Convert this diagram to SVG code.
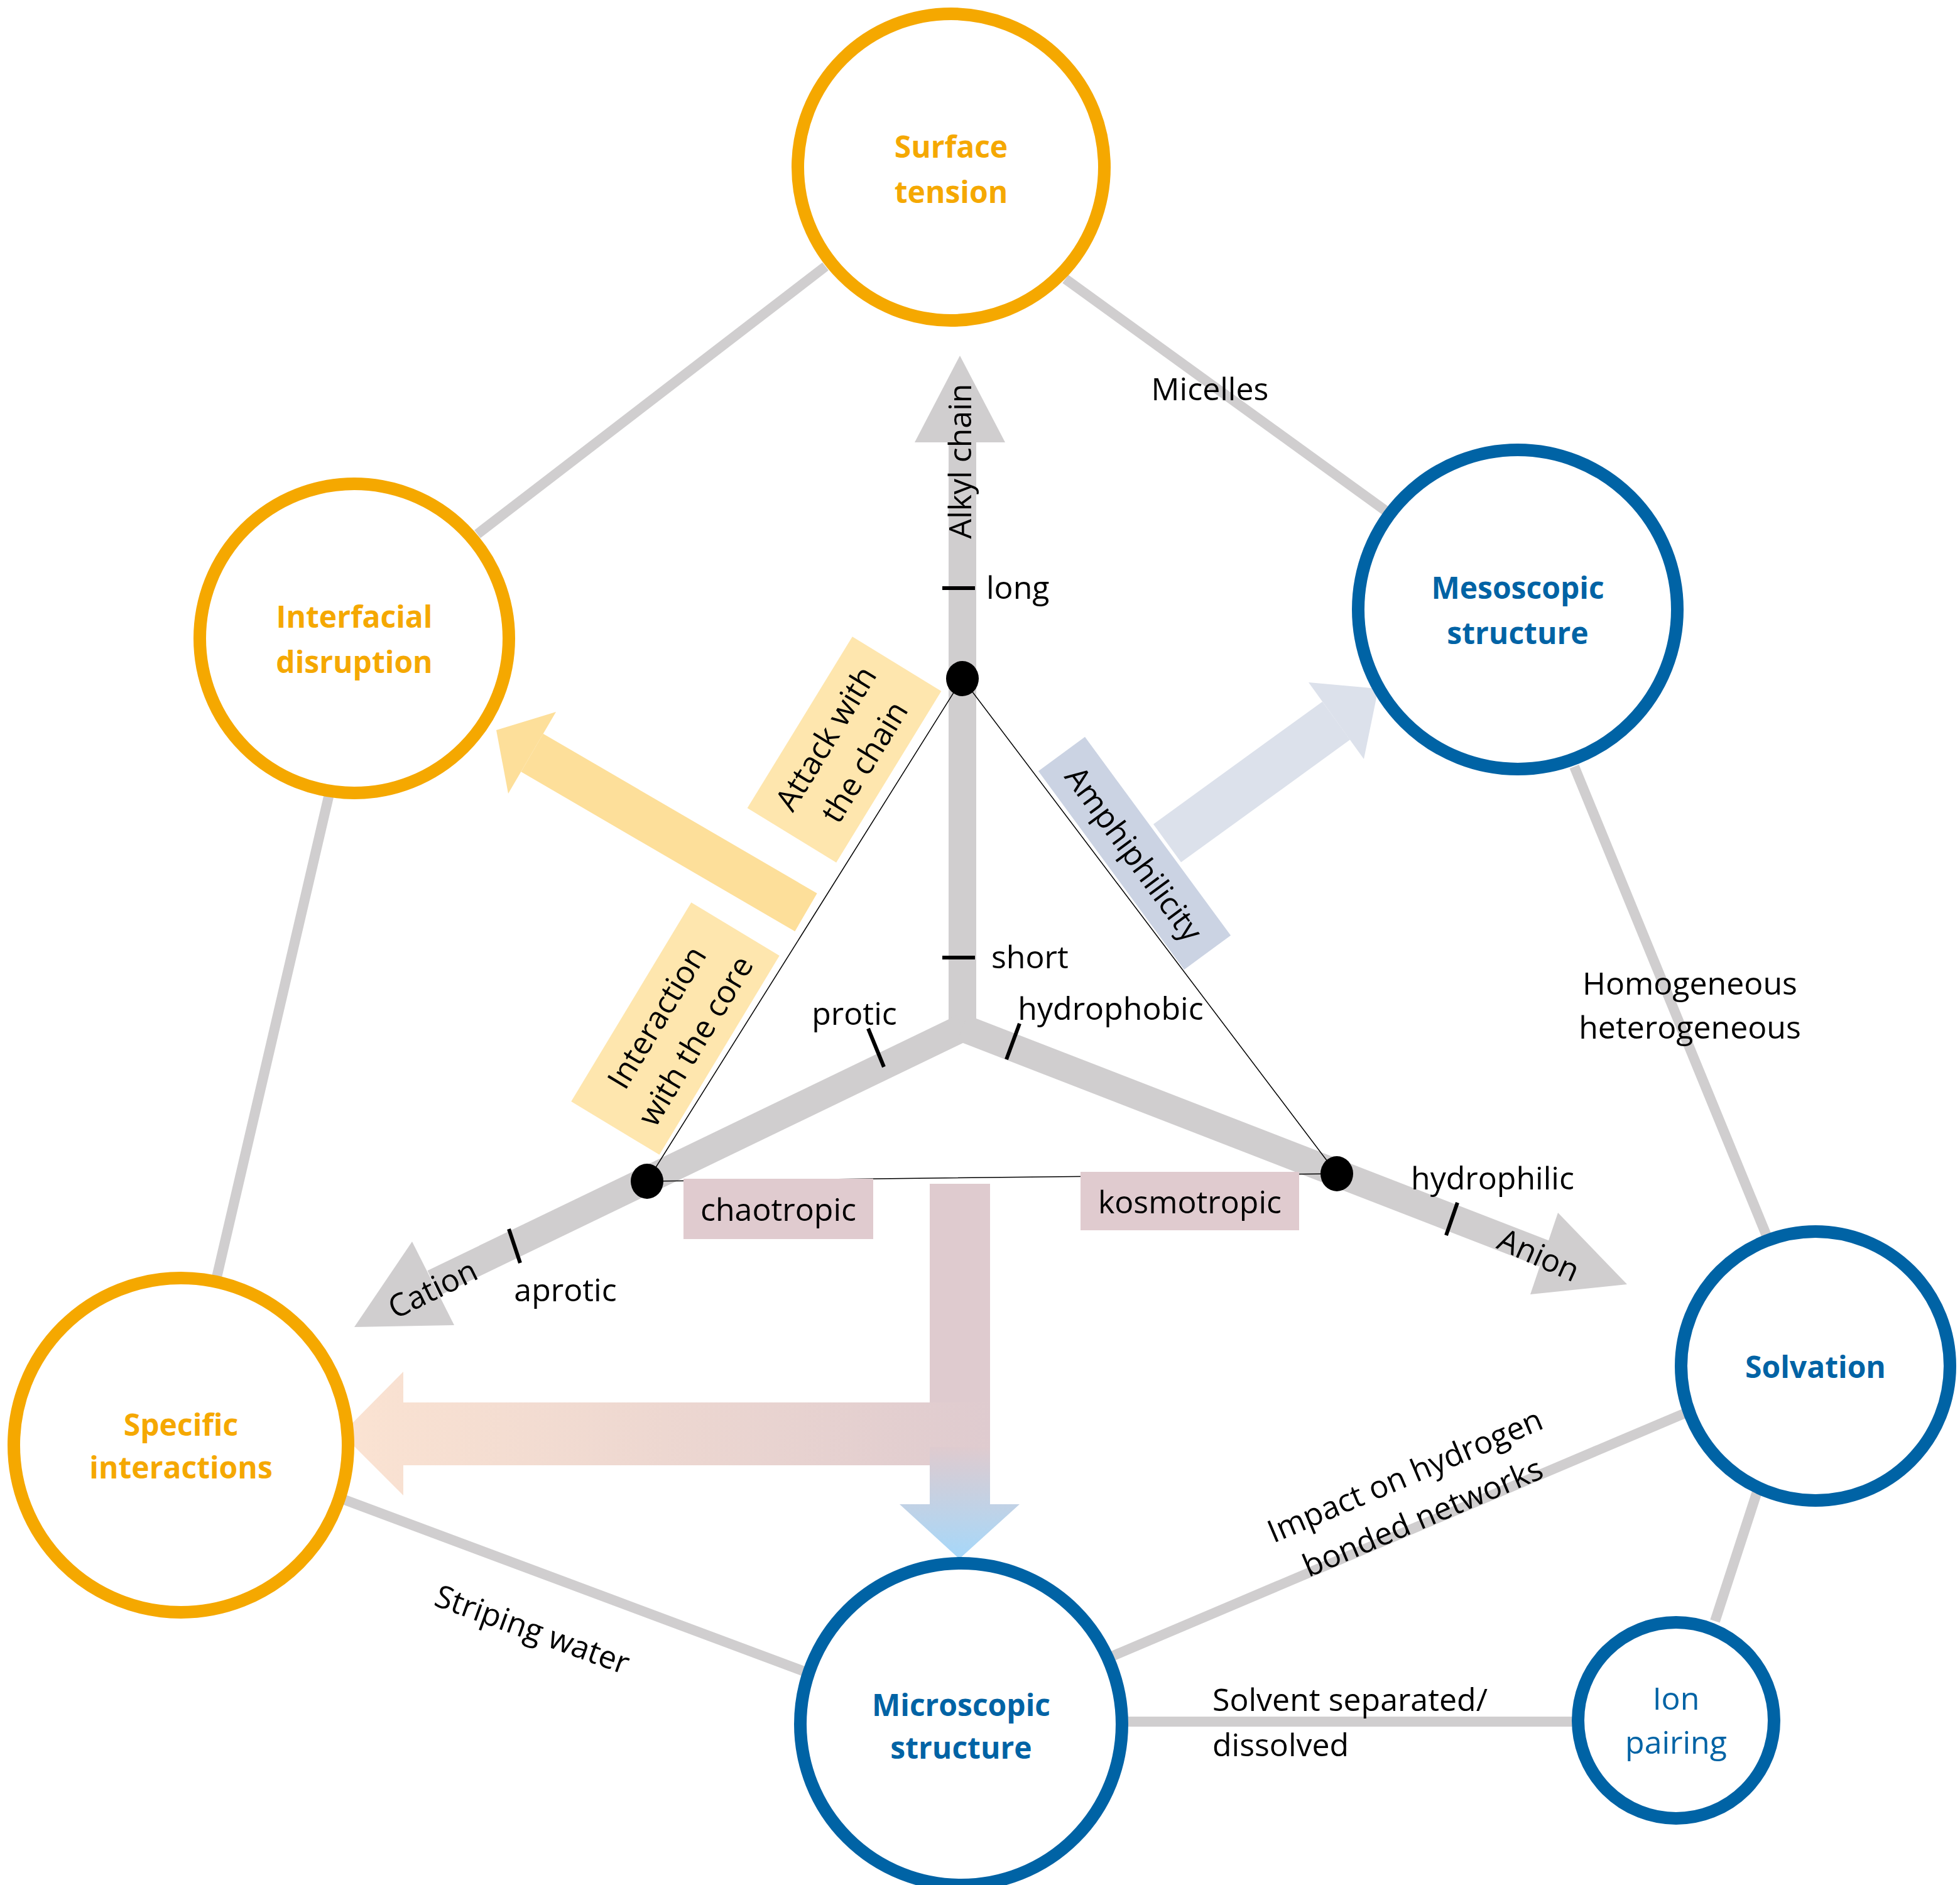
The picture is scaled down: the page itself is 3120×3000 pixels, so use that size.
<svg xmlns="http://www.w3.org/2000/svg" width="3120" height="3000" viewBox="0 0 3120 3000">
<style>
text{font-family:"Open Sans","Noto Sans",sans-serif;font-size:50px;fill:#000;text-anchor:middle;dominant-baseline:central}
.o{stroke:#F5A800;stroke-width:20;fill:#fff}
.b{stroke:#0063A5;stroke-width:20;fill:#fff}
.ot{fill:#F5A800;font-weight:bold;font-size:48px}
.bt{fill:#0063A5;font-weight:bold;font-size:48px}
.g{stroke:#D0CECF;stroke-width:16;fill:none}
.tk{stroke:#000;stroke-width:6}
.tri{stroke:#000;stroke-width:1.5;fill:none}
</style>
<defs>
<linearGradient id="hg" x1="544" y1="0" x2="1576" y2="0" gradientUnits="userSpaceOnUse"><stop offset="0" stop-color="#FBE3D2"/><stop offset="1" stop-color="#DFCBCF"/></linearGradient>
<linearGradient id="vg" x1="0" y1="2303" x2="0" y2="2481" gradientUnits="userSpaceOnUse"><stop offset="0" stop-color="#DFCBCF"/><stop offset="1" stop-color="#A6D8FA"/></linearGradient>
</defs>
<g id="connectors">
<line class="g" x1="1314" y1="424" x2="760" y2="850"/>
<line class="g" x1="1696" y1="444" x2="2210" y2="816"/>
<line class="g" x1="524" y1="1264" x2="340" y2="2054"/>
<line class="g" x1="2506" y1="1220" x2="2816" y2="1976"/>
<line class="g" x1="530" y1="2380" x2="1280" y2="2660"/>
<line class="g" x1="1770" y1="2636" x2="2680" y2="2250"/>
<line class="g" x1="2816" y1="2316" x2="2730" y2="2580"/>
<line class="g" x1="1796" y1="2740" x2="2506" y2="2740"/>
<text x="1926" y="618">Micelles</text>
<text x="2690" y="1564">Homogeneous</text>
<text x="2690" y="1634">heterogeneous</text>
<text x="848" y="2592" transform="rotate(20 848 2592)">Striping water</text>
<g transform="rotate(-23 2250 2380)"><text x="2250" y="2344">Impact on hydrogen</text><text x="2250" y="2416">bonded networks</text></g>
<text x="1930" y="2704" style="text-anchor:start">Solvent separated/</text>
<text x="1930" y="2776" style="text-anchor:start">dissolved</text>
</g>
<g id="flow-arrows">
<line x1="1283" y1="1452" x2="847" y2="1198" stroke="#FDDF9A" stroke-width="70"/>
<polygon points="885,1133 809,1263 790,1162" fill="#FDDF9A"/>
<line x1="1858" y1="1342" x2="2127" y2="1147" stroke="#DCE1EB" stroke-width="75"/>
<polygon points="2083,1086 2171,1208 2194,1096" fill="#DCE1EB"/>
<rect x="1480" y="1884" width="96" height="420" fill="#DFCBCF"/>
<polygon points="642,2183 642,2232 1576,2232 1576,2332 642,2332 642,2380 544,2282" fill="url(#hg)"/>
<polygon points="1480,2303 1576,2303 1576,2394 1623,2394 1527,2481 1432,2394 1480,2394" fill="url(#vg)"/>
</g>
<g id="axes">
<line x1="1532" y1="704" x2="1532" y2="1640" stroke="#D0CECF" stroke-width="44"/>
<polygon points="1456,704 1600,704 1528,566" fill="#D0CECF"/>
<line x1="1532" y1="1636" x2="690" y2="2042" stroke="#D0CECF" stroke-width="44"/>
<polygon points="656,1976 723,2109 564,2112" fill="#D0CECF"/>
<line x1="1532" y1="1636" x2="2458" y2="1995" stroke="#D0CECF" stroke-width="44"/>
<polygon points="2480,1930 2436,2060 2590,2044" fill="#D0CECF"/>
<text x="1527" y="734" transform="rotate(-90 1527 734)">Alkyl chain</text>
<text x="688" y="2050" transform="rotate(-26 688 2050)">Cation</text>
<text x="2450" y="1996" transform="rotate(24 2450 1996)">Anion</text>
<line class="tk" x1="1500" y1="936" x2="1552" y2="936"/>
<text x="1570" y="934" style="text-anchor:start">long</text>
<line class="tk" x1="1500" y1="1524" x2="1552" y2="1524"/>
<text x="1578" y="1522" style="text-anchor:start">short</text>
<line class="tk" x1="1382" y1="1637" x2="1407" y2="1698"/>
<text x="1360" y="1612">protic</text>
<line class="tk" x1="1623" y1="1629" x2="1602" y2="1686"/>
<text x="1768" y="1604">hydrophobic</text>
<line class="tk" x1="810" y1="1956" x2="828" y2="2010"/>
<text x="900" y="2052">aprotic</text>
<line class="tk" x1="2320" y1="1914" x2="2302" y2="1966"/>
<text x="2376" y="1874">hydrophilic</text>
<polygon class="tri" points="1532,1080 1030,1880 2128,1868"/>
<ellipse cx="1532" cy="1080" rx="26" ry="28"/>
<ellipse cx="1030" cy="1880" rx="26" ry="28"/>
<ellipse cx="2128" cy="1868" rx="26" ry="28"/>
</g>
<g id="labels">
<g transform="translate(1344,1193) rotate(-58.5)"><rect x="-160" y="-83" width="320" height="166" fill="#FEE6AE"/><text y="-36">Attack with</text><text y="36">the chain</text></g>
<g transform="translate(1075,1637) rotate(-58.9)"><rect x="-185" y="-82" width="370" height="164" fill="#FEE6AE"/><text y="-36">Interaction</text><text y="36">with the core</text></g>
<g transform="translate(1806,1358) rotate(53.7)"><rect x="-196" y="-46" width="392" height="92" fill="#CBD3E3"/><text>Amphiphilicity</text></g>
<rect x="1088" y="1876" width="302" height="96" fill="#E0CBCF"/><text x="1239" y="1924">chaotropic</text>
<rect x="1720" y="1865" width="348" height="93" fill="#E0CBCF"/><text x="1894" y="1912">kosmotropic</text>
</g>
<g id="surface"><circle class="o" cx="1514" cy="266" r="244"/><text class="ot" x="1514" y="232">Surface</text><text class="ot" x="1514" y="304">tension</text></g>
<g id="interfacial"><circle class="o" cx="564" cy="1016" r="246"/><text class="ot" x="564" y="980">Interfacial</text><text class="ot" x="564" y="1052">disruption</text></g>
<g id="specific"><circle class="o" cx="288" cy="2300" r="266"/><text class="ot" x="288" y="2266">Specific</text><text class="ot" x="288" y="2334">interactions</text></g>
<g id="meso"><circle class="b" cx="2416" cy="970" r="254"/><text class="bt" x="2416" y="934">Mesoscopic</text><text class="bt" x="2416" y="1006">structure</text></g>
<g id="solvation"><circle class="b" cx="2890" cy="2174" r="214"/><text class="bt" x="2890" y="2174">Solvation</text></g>
<g id="ion"><circle class="b" cx="2668" cy="2738" r="156"/><text x="2668" y="2702" style="fill:#0063A5">Ion</text><text x="2668" y="2772" style="fill:#0063A5">pairing</text></g>
<g id="micro"><circle class="b" cx="1530" cy="2744" r="256"/><text class="bt" x="1530" y="2712">Microscopic</text><text class="bt" x="1530" y="2780">structure</text></g>
</svg>
